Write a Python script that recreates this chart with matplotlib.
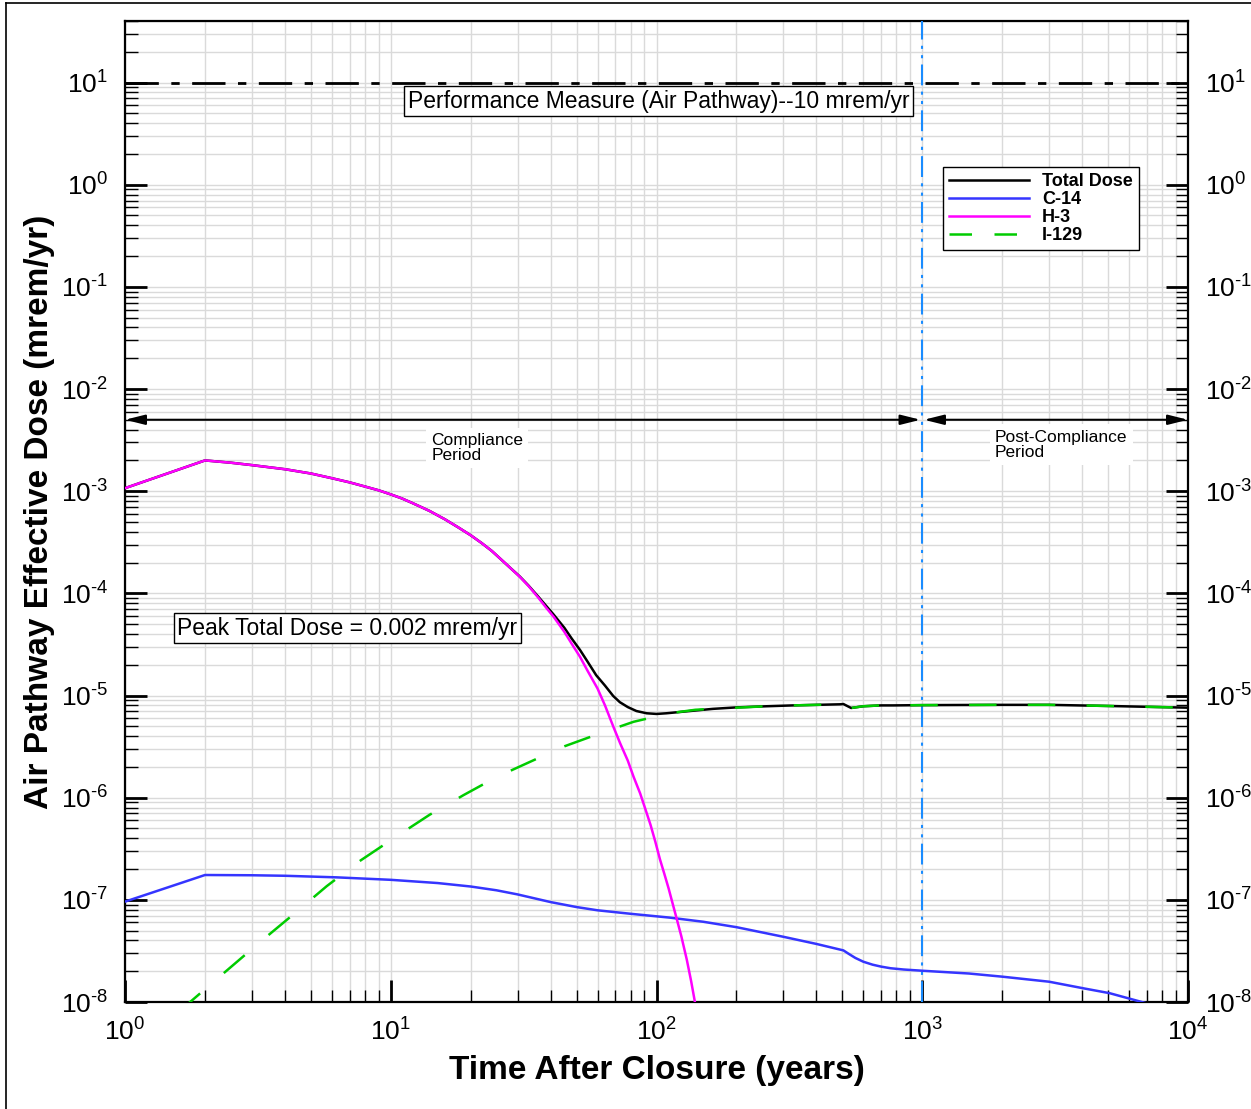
import numpy as np
import matplotlib
matplotlib.use('Agg')
import matplotlib.pyplot as plt
from matplotlib.ticker import LogLocator, NullFormatter, FixedLocator, FixedFormatter
from matplotlib.lines import Line2D

plt.rcParams['font.family'] = ['Liberation Sans', 'DejaVu Sans']
plt.rcParams['mathtext.fontset'] = 'custom'
plt.rcParams['mathtext.rm'] = 'Liberation Sans'
plt.rcParams['mathtext.it'] = 'Liberation Sans:italic'
plt.rcParams['mathtext.bf'] = 'Liberation Sans:bold'
plt.rcParams['mathtext.default'] = 'regular'
plt.rcParams['axes.unicode_minus'] = False

# ---------------- data ----------------
h3_t = [1, 2, 2.5, 3, 4, 5, 6, 7, 8, 9, 10, 11, 12, 13, 14, 16, 18, 20, 22, 24, 26, 28, 30.6,
        33, 36, 38.5, 41, 45, 48, 51.5, 55, 60, 64, 68.7, 73, 78, 82, 86.8, 91, 95, 99, 103,
        107, 111, 115, 119, 124, 130, 135, 139.5, 145]
h3_v = [1.07e-3, 2.0e-3, 1.9e-3, 1.8e-3, 1.64e-3, 1.49e-3, 1.34e-3, 1.22e-3, 1.11e-3, 1.02e-3,
        9.3e-4, 8.5e-4, 7.7e-4, 7.0e-4, 6.4e-4, 5.3e-4, 4.4e-4, 3.7e-4, 3.1e-4, 2.6e-4, 2.15e-4,
        1.8e-4, 1.45e-4, 1.18e-4, 9.0e-5, 7.2e-5, 5.9e-5, 4.2e-5, 3.2e-5, 2.4e-5, 1.75e-5,
        1.17e-5, 8.0e-6, 5.0e-6, 3.4e-6, 2.3e-6, 1.6e-6, 1.1e-6, 7.6e-7, 5.4e-7, 3.7e-7, 2.5e-7,
        1.8e-7, 1.3e-7, 9.2e-8, 6.6e-8, 4.4e-8, 2.6e-8, 1.6e-8, 1.0e-8, 6.0e-9]

total_t = [1, 2, 2.5, 3, 4, 5, 6, 7, 8, 9, 10, 11, 12, 13, 14, 16, 18, 20, 22, 24, 26, 28, 30.6,
           33, 36, 38.5, 41, 45, 48, 51.5, 55, 59.3, 64, 68.7, 72.8, 78, 84, 91.8, 100, 109,
           130, 163, 200, 260, 326, 400, 490, 505, 540, 600, 700, 778, 1000, 2000, 3000, 5000, 10000]
total_v = [1.07e-3, 2.0e-3, 1.9e-3, 1.8e-3, 1.64e-3, 1.49e-3, 1.34e-3, 1.22e-3, 1.11e-3, 1.02e-3,
           9.3e-4, 8.5e-4, 7.7e-4, 7.0e-4, 6.4e-4, 5.3e-4, 4.4e-4, 3.7e-4, 3.1e-4, 2.6e-4, 2.15e-4,
           1.8e-4, 1.46e-4, 1.19e-4, 9.2e-5, 7.5e-5, 6.2e-5, 4.6e-5, 3.6e-5, 2.8e-5, 2.15e-5,
           1.58e-5, 1.25e-5, 9.9e-6, 8.6e-6, 7.7e-6, 7.05e-6, 6.7e-6, 6.6e-6, 6.7e-6,
           7.0e-6, 7.4e-6, 7.65e-6, 7.85e-6, 8.0e-6, 8.1e-6, 8.2e-6, 8.25e-6, 7.55e-6, 7.85e-6,
           8.0e-6, 8.0e-6, 8.05e-6, 8.1e-6, 8.1e-6, 7.9e-6, 7.6e-6]

c14_t = [1, 2, 3, 4, 6.25, 10, 15, 20, 25, 30, 40, 50, 60, 80, 112, 150, 200, 300, 400, 505,
         530, 560, 600, 650, 700, 760, 850, 1010, 1500, 2000, 3000, 4050, 5070, 6700, 10000]
c14_v = [9.6e-8, 1.75e-7, 1.74e-7, 1.72e-7, 1.66e-7, 1.57e-7, 1.46e-7, 1.35e-7, 1.24e-7, 1.13e-7,
         9.5e-8, 8.5e-8, 7.9e-8, 7.3e-8, 6.7e-8, 6.1e-8, 5.4e-8, 4.35e-8, 3.7e-8, 3.2e-8,
         2.95e-8, 2.7e-8, 2.48e-8, 2.32e-8, 2.22e-8, 2.14e-8, 2.08e-8, 2.02e-8, 1.9e-8, 1.77e-8,
         1.58e-8, 1.36e-8, 1.22e-8, 1.0e-8, 7.5e-9]

i129_t = [1.6, 2.12, 3.18, 4.3, 5.74, 7.7, 10.4, 14, 18.8, 25, 33.9, 45, 61.3, 82, 112, 140, 163,
          200, 260, 326, 400, 505, 540, 600, 700, 778, 1000, 2000, 3000, 5000, 10000]
i129_v = [8.1e-9, 1.52e-8, 3.75e-8, 7.2e-8, 1.36e-7, 2.43e-7, 4.1e-7, 6.8e-7, 1.06e-6, 1.59e-6,
          2.28e-6, 3.18e-6, 4.26e-6, 5.53e-6, 6.7e-6, 7.25e-6, 7.4e-6, 7.6e-6, 7.85e-6, 8.0e-6,
          8.1e-6, 8.2e-6, 7.55e-6, 7.85e-6, 8.0e-6, 8.0e-6, 8.05e-6, 8.1e-6, 8.1e-6, 7.9e-6, 7.6e-6]

perf_measure = 10.0
compliance_end = 1000
arrow_level = 5e-3
x_range = [1, 1e4]
y_range = [1e-8, 40]
ytick_vals = [1e-8, 1e-7, 1e-6, 1e-5, 1e-4, 1e-3, 1e-2, 1e-1, 1e0, 1e1]
ytick_exps = ['-8', '-7', '-6', '-5', '-4', '-3', '-2', '-1', '0', '1']
xtick_vals = [1, 10, 100, 1000, 10000]
xtick_exps = ['0', '1', '2', '3', '4']


def sup_label(e):
    if e.startswith('-'):
        return r'$10^{\text{-}' + e[1:] + '}$'
    return '$10^{' + e + '}$'


# ---------------- figure ----------------
W, H = 1251, 1109
fig = plt.figure(figsize=(W / 100, H / 100), dpi=100)
ax = fig.add_axes([125 / W, 1 - 1002 / H, (1188 - 125) / W, (1002 - 21) / H])
ax.set_xscale('log')
ax.set_yscale('log')
ax.set_xlim(*x_range)
ax.set_ylim(*y_range)

grid_c = '#dadada'
ax.grid(True, which='both', color=grid_c, lw=1.0)
ax.set_axisbelow(True)

ax.xaxis.set_major_locator(FixedLocator(xtick_vals))
ax.xaxis.set_major_formatter(FixedFormatter([sup_label(e) for e in xtick_exps]))
ax.xaxis.set_minor_locator(LogLocator(base=10, subs=np.arange(2, 10), numticks=20))
ax.xaxis.set_minor_formatter(NullFormatter())
ax.yaxis.set_major_locator(FixedLocator(ytick_vals))
ax.yaxis.set_major_formatter(FixedFormatter([sup_label(e) for e in ytick_exps]))
ax.yaxis.set_minor_locator(LogLocator(base=10, subs=np.arange(2, 10), numticks=20))
ax.yaxis.set_minor_formatter(NullFormatter())

ax.tick_params(which='major', direction='in', length=16, width=2, labelsize=19)
ax.tick_params(which='minor', direction='in', length=9, width=1)
ax.tick_params(axis='x', which='major', pad=12)
ax.tick_params(axis='y', which='major', pad=12)
ax.tick_params(axis='y', which='both', left=True, right=True, labelleft=True, labelright=True)
ax.tick_params(axis='x', which='both', top=False, bottom=True)
for s in ax.spines.values():
    s.set_linewidth(1.6)

# reference lines
ax.axhline(perf_measure, color='black', lw=2, linestyle=(0, (12, 4.5, 3, 4.5)), zorder=3)
ax.axvline(compliance_end, color='#1a8cff', lw=1.5, linestyle=(0, (10, 3, 1.5, 3, 1.5, 3)), zorder=3)

# curves
lw = 1.8
c_blue, c_mag, c_green = '#3535ff', '#ff00ff', '#00cc00'
ax.plot(c14_t, c14_v, color=c_blue, lw=lw, zorder=4)
ax.plot(total_t, total_v, color='black', lw=lw, zorder=4.5)
ax.plot(h3_t, h3_v, color=c_mag, lw=lw, zorder=5)
ax.plot(i129_t, i129_v, color=c_green, lw=lw, linestyle=(0, (11, 12.5)), zorder=6)

# arrows
ap = dict(arrowstyle='<|-|>,head_length=0.8,head_width=0.2', color='black', lw=1.5,
          mutation_scale=15, shrinkA=0, shrinkB=0)
ax.annotate('', xy=(compliance_end * 0.985, arrow_level), xytext=(x_range[0], arrow_level), arrowprops=ap, zorder=6)
ax.annotate('', xy=(x_range[1], arrow_level), xytext=(compliance_end * 1.015, arrow_level), arrowprops=ap, zorder=6)

ax.text(14.2, 2.64e-3, 'Compliance\nPeriod', fontsize=12.5, ha='left', va='center', linespacing=1.0,
        bbox=dict(boxstyle='square,pad=0.3', fc='white', ec='none'), zorder=4)
ax.text(1880, 2.85e-3, 'Post-Compliance\nPeriod', fontsize=12.5, ha='left', va='center', linespacing=1.0,
        bbox=dict(boxstyle='square,pad=0.3', fc='white', ec='none'), zorder=4)

ax.text(11.6, 6.55, 'Performance Measure (Air Pathway)--10 mrem/yr', fontsize=16.5, ha='left', va='center',
        bbox=dict(boxstyle='square,pad=0.15', fc='white', ec='black', lw=1), zorder=7)
ax.text(1.57, 4.57e-5, 'Peak Total Dose = 0.002 mrem/yr', fontsize=16.5, ha='left', va='center',
        bbox=dict(boxstyle='square,pad=0.15', fc='white', ec='black', lw=1), zorder=7)

# legend
handles = [Line2D([], [], color='black', lw=lw),
           Line2D([], [], color=c_blue, lw=lw),
           Line2D([], [], color=c_mag, lw=lw),
           Line2D([], [], color=c_green, lw=lw, linestyle=(0, (9, 9)))]
labels = ['Total Dose', 'C-14', 'H-3', 'I-129']
leg = ax.legend(handles, labels, loc='upper left', bbox_to_anchor=(0.7695, 0.851),
                prop={'weight': 'bold', 'size': 13}, handlelength=4.43, handletextpad=0.72,
                labelspacing=0.05, borderpad=0.33, fancybox=False, framealpha=1,
                edgecolor='black', borderaxespad=0)
leg.get_frame().set_linewidth(1.0)
leg.set_zorder(8)

# axis labels
fig.text(657 / W, 1 - 1070 / H, 'Time After Closure (years)', fontsize=24, fontweight='bold',
         ha='center', va='center')
fig.text(40 / W, 1 - 512 / H, 'Air Pathway Effective Dose (mrem/yr)', fontsize=24, fontweight='bold',
         ha='center', va='center', rotation=90)

# outer frame lines (left and top)
fig.add_artist(Line2D([6 / W, 6 / W], [0, 1 - 3 / H], color='black', lw=1.2, transform=fig.transFigure))
fig.add_artist(Line2D([6 / W, 1], [1 - 3 / H, 1 - 3 / H], color='black', lw=1.2, transform=fig.transFigure))

fig.savefig('out.png', dpi=100)
